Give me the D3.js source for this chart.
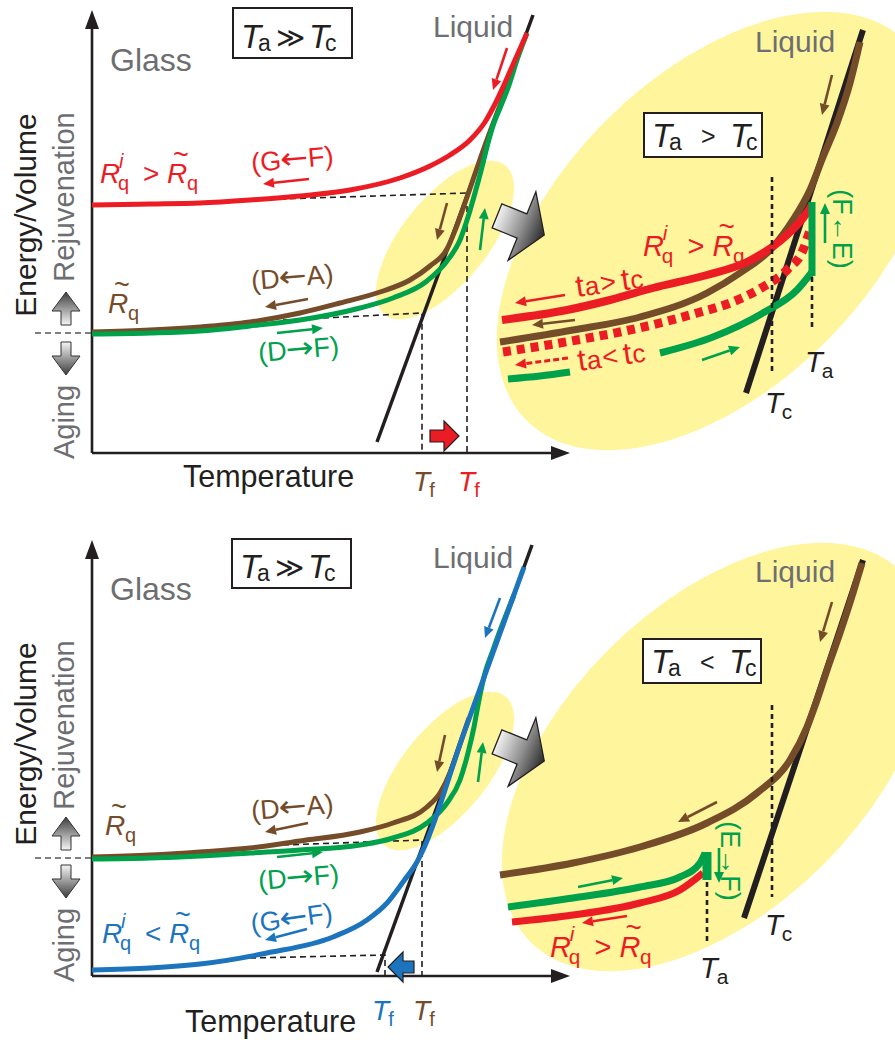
<!DOCTYPE html>
<html>
<head>
<meta charset="utf-8">
<style>
  body { margin: 0; background: #fff; }
  svg { display: block; font-family: "Liberation Sans", Arial, sans-serif; }
</style>
</head>
<body>
<svg width="895" height="1053"></svg>
<script src="https://d3js.org/d3.v7.min.js"></script>
<script>
// schematic units: T = temperature along the axis, E = energy above the axis
// ---------- top panel (Ta >> Tc, Rq^i > Rq~) ----------
const topLiquid = [[285, 11], [441, 438]];
const topBrown = [[0,121],[58,123],[108,126],[158,131],[208,140],[248,150],[288,161],[318,173],[338,187],[355,204],[364,225],[374,253],[392,305],[414,363]];
const topGreen = [[0,119],[58,120],[108,122],[158,127],[208,133],[268,145],[301,155],[335,172],[355,192],[368,213],[376,236],[383,260],[390,286],[396,310],[402,330],[408,345],[416,365],[425,393],[435,420]];
const topRed = [[0,248],[58,249],[108,250],[158,253],[208,257],[258,263],[308,275],[338,287],[358,298],[378,313],[393,331],[403,349],[412,368],[423,393],[435,420]];
const topRedDash = [[158,253],[375,260],[375,0]];
const topBrownDash = [[191,133],[330,140],[330,0]];
const topLevel = [[-57,120],[0,120]];
const topShift = [[338,17],[367,17]];
// zoomed region, top
const topInLiquid = [[654,60],[771,423]];
const topInBrown = [[408,111],[481,123],[548,136],[615,160],[648,180],[681,206],[701,233],[718,263],[731,296],[745,330],[758,370],[768,411]];
const topInRed = [[410,133],[475,143],[518,153],[561,165],[615,178],[655,191],[688,212],[711,235],[720,248]];
const topInRedDot = [[411,101],[485,113],[528,121],[568,130],[605,140],[638,150],[671,166],[695,183],[711,203],[718,223]];
const topInGreenA = [[416,74],[448,77],[478,81]];
const topInGreenB = [[568,100],[621,116],[671,140],[705,163],[720,181]];
const topInGreenUp = [[720,177],[720,251]];
const topTc = [[680,276],[680,81]];
const topTa = [[720,176],[720,126]];
const topArrows = {
  red:   [[[415,405],[401,363]], [[217,274],[171,269]], [[473,158],[423,150]]],
  brown: [[[355,250],[345,213]], [[216,154],[173,146]], [[483,133],[440,128]], [[740,378],[730,338]]],
  green: [[[388,203],[393,245]], [[185,120],[231,125]], [[610,93],[648,106]], [[733,210],[733,250]]],
  redDash: [[[476,95],[423,88]]]
};
const topZones = [[353,213],[624,222]];
const topBigArrow = [430,227];

// ---------- bottom panel (Ta >> Tc, Rq^i < Rq~) ----------
const botLiquid = [[285,4],[440,431]];
const botBrown = [[0,119],[58,121],[108,124],[158,128],[208,135],[268,144],[301,153],[335,169],[348,183],[358,203],[366,226],[377,258]];
const botGreen = [[0,117],[58,118],[108,120],[158,123],[208,126],[268,131],[301,138],[335,153],[355,173],[368,196],[376,223],[382,249],[387,276],[393,303],[401,326],[409,348],[422,381]];
const botBlue = [[0,6],[58,8],[108,12],[175,23],[241,39],[275,56],[295,73],[311,94],[325,114],[373,246],[432,409]];
const botBlueDash = [[158,18],[293,21],[293,0]];
const botBrownDash = [[191,131],[330,136],[330,0]];
const botLevel = [[-57,118],[0,118]];
const botShift = [[322,9],[296,9]];
// zoomed region, bottom
const botInLiquid = [[652,58],[771,416]];
const botInBrown = [[408,101],[481,113],[548,129],[615,153],[665,183],[698,216],[715,249],[725,276],[735,306],[748,343],[761,383],[770,413]];
const botInGreen = [[416,69],[481,78],[548,89],[588,99],[608,113],[613,123]];
const botInGreenBar = [[615,96],[615,124]];
const botInRed = [[420,54],[481,61],[548,73],[588,86],[611,103]];
const botTa = [[615,94],[615,34]];
const botTc = [[680,271],[680,79]];
const botArrows = {
  blue:  [[[408,378],[393,338]], [[215,47],[173,36]]],
  brown: [[[353,241],[345,204]], [[216,153],[173,144]], [[740,374],[728,334]], [[625,174],[586,154]]],
  green: [[[386,194],[391,234]], [[185,119],[231,124]], [[486,89],[531,98]], [[627,128],[627,93]]],
  red:   [[[535,60],[490,53]]]
};
const botZones = [[353,205],[624,219]];
const botBigArrow = [430,224];

const C = { red: "#ec1c24", green: "#00a14b", brown: "#754c29", blue: "#1c75bc",
            black: "#231f20", gray: "#6d6e71", yellow: "#fff59d" };

const svg = d3.select("svg");
const xs = d3.scaleLinear().domain([0, 480]).range([92, 572]);
const yTop = d3.scaleLinear().domain([0, 445]).range([453, 8]);
const yBot = d3.scaleLinear().domain([0, 445]).range([976, 531]);

const defs = svg.append("defs");
function grad(id, x2, y2, stops) {
  const g = defs.append("linearGradient").attr("id", id)
    .attr("x1", 0).attr("y1", 0).attr("x2", x2).attr("y2", y2);
  stops.forEach(s => g.append("stop").attr("offset", s[0]).attr("stop-color", s[1]));
}
grad("gH", 1, 0, [["0%", "#f2f2f2"], ["55%", "#8c8c8c"], ["100%", "#2a2a2a"]]);
grad("gUp", 0, 1, [["0%", "#3c3c3c"], ["100%", "#f6f6f6"]]);
grad("gDn", 0, 1, [["0%", "#f6f6f6"], ["100%", "#3c3c3c"]]);

function arrow(g, p1, p2, color, w, L, W, dash) {
  const [x1, y1] = p1, [x2, y2] = p2;
  const a = Math.atan2(y2 - y1, x2 - x1);
  const bx = x2 - L * Math.cos(a), by = y2 - L * Math.sin(a);
  g.append("line").attr("x1", x1).attr("y1", y1).attr("x2", bx).attr("y2", by)
    .attr("stroke", color).attr("stroke-width", w)
    .attr("stroke-dasharray", dash || null);
  g.append("path")
    .attr("d", `M${x2},${y2}L${bx + W * Math.sin(a)},${by - W * Math.cos(a)}L${bx - W * Math.sin(a)},${by + W * Math.cos(a)}Z`)
    .attr("fill", color);
}

// one <text> per label, pieces placed as tspans
function rich(x, y, color, rot, parts) {
  const t = svg.append("text").attr("transform", `translate(${x},${y}) rotate(${rot || 0})`)
    .attr("fill", color);
  parts.forEach(([s, dx, dy, fs, it]) => {
    t.append("tspan").attr("x", dx).attr("y", dy).attr("font-size", fs)
      .attr("font-style", it ? "italic" : "normal").text(s);
  });
  return t;
}
// "(X←Y)" step labels; the arrow glyph is set in DejaVu and stretched to a long arrow
function step(x, y, color, rot, a, arr, b) {
  const g = svg.append("g").attr("transform", `translate(${x},${y}) rotate(${rot})`).attr("fill", color);
  const wa = a === "(G" ? 29 : 27.5;
  g.append("text").attr("font-size", 27).text(a);
  g.append("text").attr("x", wa).attr("y", 0).attr("font-size", 30)
    .attr("font-family", "DejaVu Sans")
    .attr("textLength", 28).attr("lengthAdjust", "spacingAndGlyphs").text(arr);
  g.append("text").attr("x", wa + 28).attr("font-size", 27).text(b);
}
function rLabel(x, y, color, rel, fs) {
  const k = fs / 28;
  rich(x, y, color, 0, [
    ["R", 0, 0, fs, 1], ["i", 19 * k, -15 * k, 20 * k, 1], ["q", 18 * k, 7 * k, 20 * k, 0],
    [rel, 43 * k, 0, fs, 0],
    ["R", 67 * k, 0, fs, 1], ["~", 73 * k, -19 * k, 27 * k, 0], ["q", 87 * k, 7 * k, 20 * k, 0]
  ]);
}
function rTilde(x, y, color) {
  rich(x, y, color, 0, [["R", 0, 0, 28, 1], ["~", 6, -19, 27, 0], ["q", 20, 7, 20, 0]]);
}
function sub(x, y, color, a, b, fs) {
  rich(x, y, color, 0, [[a, 0, 0, fs, 1], [b, fs * 0.58, fs * 0.2, fs * 0.72, 0]]);
}
function caseBox(x, y, w, h, rel, big) {
  svg.append("rect").attr("x", x).attr("y", y).attr("width", w).attr("height", h)
    .attr("fill", "#fff").attr("stroke", C.black).attr("stroke-width", 2);
  const b = y + h - 10;
  rich(x + 8, b, C.black, 0, [
    ["T", 0, 0, 33, 1], ["a", 17, 3, 23, 0],
    [rel, big ? 35 : 49, big ? -1 : -2, big ? 28 : 25, 0],
    ["T", big ? 68 : 78, 0, 33, 1], ["c", big ? 84 : 94, 3, 23, 0]
  ]);
}
function blockArrow(g, p1, p2, fill) {
  const [x1, y] = p1, [x2] = p2;
  const s = Math.sign(x2 - x1), hx = x2 - s * 15;
  g.append("path")
    .attr("d", `M${x1},${y - 6}L${hx},${y - 6}L${hx},${y - 15}L${x2},${y}L${hx},${y + 15}L${hx},${y + 6}L${x1},${y + 6}Z`)
    .attr("fill", fill).attr("stroke", C.black).attr("stroke-width", 1.2);
}
function grayArrow(g, cx, cy) {
  g.append("path")
    .attr("transform", `translate(${cx},${cy}) rotate(22)`)
    .attr("d", "M-27,-13L0,-13L0,-37L24,0L0,37L0,13L-27,13Z")
    .attr("fill", "url(#gH)").attr("stroke", C.black).attr("stroke-width", 1.3);
}
function updown(cx, yTopA, yBotA) {
  svg.append("path")
    .attr("d", `M${cx},${yTopA}L${cx + 14},${yTopA + 19}L${cx + 5},${yTopA + 19}L${cx + 5},${yTopA + 33}L${cx - 5},${yTopA + 33}L${cx - 5},${yTopA + 19}L${cx - 14},${yTopA + 19}Z`)
    .attr("fill", "url(#gUp)").attr("stroke", "#333").attr("stroke-width", 1);
  svg.append("path")
    .attr("d", `M${cx},${yBotA + 33}L${cx + 14},${yBotA + 14}L${cx + 5},${yBotA + 14}L${cx + 5},${yBotA}L${cx - 5},${yBotA}L${cx - 5},${yBotA + 14}L${cx - 14},${yBotA + 14}Z`)
    .attr("fill", "url(#gDn)").attr("stroke", "#333").attr("stroke-width", 1);
}

function panel(ys, d) {
  const g = svg.append("g");
  const curve = d3.line().x(p => xs(p[0])).y(p => ys(p[1])).curve(d3.curveMonotoneX);
  const straight = d3.line().x(p => xs(p[0])).y(p => ys(p[1]));
  const P = p => [xs(p[0]), ys(p[1])];

  // yellow zoom regions
  const [small, big] = d.zones;
  g.append("ellipse").attr("cx", xs(big[0])).attr("cy", ys(big[1])).attr("rx", d.bigSize[0]).attr("ry", d.bigSize[1])
    .attr("transform", `rotate(-45 ${xs(big[0])} ${ys(big[1])})`).attr("fill", C.yellow);
  g.append("ellipse").attr("cx", xs(small[0])).attr("cy", ys(small[1])).attr("rx", 96).attr("ry", 43)
    .attr("transform", `rotate(-51 ${xs(small[0])} ${ys(small[1])})`).attr("fill", C.yellow);
  grayArrow(g, xs(d.bigArrow[0]), ys(d.bigArrow[1]));

  // axes
  const o = P([0, 0]);
  arrow(g, o, P([0, d.yMax]), C.black, 2.6, 19, 7);
  arrow(g, o, P([478, 0]), C.black, 2.6, 19, 7);

  // guides
  g.append("path").attr("d", straight(d.level)).attr("fill", "none")
    .attr("stroke", "#555").attr("stroke-width", 1.5).attr("stroke-dasharray", "6,4");
  d.dashes.forEach(ln => g.append("path").attr("d", straight(ln)).attr("fill", "none")
    .attr("stroke", C.black).attr("stroke-width", 1.6).attr("stroke-dasharray", "6,4"));

  // main plot
  g.append("path").attr("d", straight(d.liquid)).attr("stroke", C.black).attr("stroke-width", 3.5);
  d.main.forEach(([pts, col, w]) => g.append("path").attr("d", curve(pts)).attr("fill", "none")
    .attr("stroke", col).attr("stroke-width", w).attr("stroke-linecap", "butt"));
  blockArrow(g, P(d.shift[0]), P(d.shift[1]), d.shiftColor);

  // zoomed plot
  g.append("path").attr("d", straight(d.inLiquid)).attr("stroke", C.black).attr("stroke-width", 6);
  d.inset.forEach(([pts, col, w, dash, lin]) => g.append("path")
    .attr("d", (lin ? straight : curve)(pts)).attr("fill", "none")
    .attr("stroke", col).attr("stroke-width", w).attr("stroke-dasharray", dash || null)
    .attr("stroke-linecap", "butt"));
  d.dots.forEach(ln => g.append("path").attr("d", straight(ln)).attr("fill", "none")
    .attr("stroke", C.black).attr("stroke-width", 2.6).attr("stroke-dasharray", "5,4"));

  Object.entries(d.arrows).forEach(([k, list]) => list.forEach(([a, b]) => {
    const col = k === "redDash" ? C.red : C[k];
    arrow(g, P(a), P(b), col, k === "redDash" ? 3 : 2.6, 11, 5, k === "redDash" ? "6,3" : null);
  }));
}

// ---------- draw top ----------
panel(yTop, {
  zones: topZones, bigSize: [268, 156], bigArrow: topBigArrow, yMax: 443, level: topLevel,
  dashes: [topRedDash, topBrownDash], liquid: topLiquid,
  main: [[topBrown, C.brown, 5], [topGreen, C.green, 5], [topRed, C.red, 5]],
  shift: topShift, shiftColor: C.red,
  inLiquid: topInLiquid,
  inset: [[topInBrown, C.brown, 7], [topInRed, C.red, 8], [topInRedDot, C.red, 9, "8,6"],
          [topInGreenA, C.green, 7], [topInGreenB, C.green, 7], [topInGreenUp, C.green, 7, null, true]],
  dots: [topTc, topTa], arrows: topArrows
});
// ---------- draw bottom ----------
panel(yBot, {
  zones: botZones, bigSize: [262, 152], bigArrow: botBigArrow, yMax: 436, level: botLevel,
  dashes: [botBlueDash, botBrownDash], liquid: botLiquid,
  main: [[botBrown, C.brown, 5], [botGreen, C.green, 5], [botBlue, C.blue, 5]],
  shift: botShift, shiftColor: C.blue,
  inLiquid: botInLiquid,
  inset: [[botInBrown, C.brown, 7], [botInRed, C.red, 7], [botInGreen, C.green, 7],
          [botInGreenBar, C.green, 9, null, true]],
  dots: [botTc, botTa], arrows: botArrows
});

// ---------- texts ----------
function txt(x, y, s, fs, col) {
  return svg.append("text").attr("x", x).attr("y", y).attr("font-size", fs).attr("fill", col).text(s);
}
function vtxt(x, y, s, fs, col, rot) {
  return svg.append("text").attr("transform", `translate(${x},${y}) rotate(${rot})`)
    .attr("text-anchor", "middle").attr("font-size", fs).attr("fill", col).text(s);
}

txt(110, 71, "Glass", 32, C.gray);
txt(110, 600, "Glass", 32, C.gray);
txt(433, 37, "Liquid", 30, C.gray);
txt(433, 568, "Liquid", 30, C.gray);
txt(755, 52, "Liquid", 30, C.gray);
txt(755, 582, "Liquid", 30, C.gray);

caseBox(233, 8, 119, 50, "\u226B", true);
caseBox(232, 539, 119, 49, "\u226B", true);
caseBox(644, 113, 118, 44, ">", false);
caseBox(643, 639, 118, 44, "<", false);

// axis titles
[[215, 197, 422], [744, 725, 945]].forEach(([ev, rj, ag]) => {
  vtxt(36, ev, "Energy/Volume", 30, C.black, -90);
  vtxt(74, rj, "Rejuvenation", 29, C.gray, -90);
  vtxt(74, ag, "Aging", 29, C.gray, -90);
});
updown(66, 292, 342);
updown(66, 817, 865);
txt(183, 487, "Temperature", 30.5, C.black);
txt(185, 1032, "Temperature", 30.5, C.black);

// top main labels
rLabel(100, 183, C.red, ">", 28);
step(252, 172, C.red, -5, "(G", "\u2190", "F)");
step(252, 290, C.brown, -5, "(D", "\u2190", "A)");
step(259, 362, C.green, -5, "(D", "\u2192", "F)");
rTilde(108, 313, C.brown);
sub(413, 491, C.brown, "T", "f", 28);
sub(458, 491, C.red, "T", "f", 28);

// top zoom labels
rLabel(643, 256, C.red, ">", 29);
rich(577, 297, C.red, -8, [["t", 0, 0, 31], ["a", 9, 0, 26], [">", 25, -1, 27], ["t", 46, 0, 31], ["c", 55, 0, 26]]);
rich(579, 371, C.red, -8, [["t", 0, 0, 31], ["a", 9, 0, 26], ["<", 25, -1, 27], ["t", 46, 0, 31], ["c", 55, 0, 26]]);
vtxt(833, 229, "(F\u2190E)", 27, C.green, 90);
sub(805, 372, C.black, "T", "a", 29);
sub(765, 413, C.black, "T", "c", 29);

// bottom main labels
step(252, 820, C.brown, -5, "(D", "\u2190", "A)");
step(259, 890, C.green, -5, "(D", "\u2192", "F)");
step(252, 933, C.blue, -8, "(G", "\u2190", "F)");
rTilde(105, 835, C.brown);
rLabel(102, 943, C.blue, "<", 28);
sub(372, 1020, C.blue, "T", "f", 28);
sub(413, 1020, C.brown, "T", "f", 28);

// bottom zoom labels
rLabel(550, 957, C.red, ">", 29);
vtxt(721, 861, "(E\u2192F)", 27, C.green, 90);
sub(700, 978, C.black, "T", "a", 29);
sub(765, 935, C.black, "T", "c", 29);
</script>
</body>
</html>
